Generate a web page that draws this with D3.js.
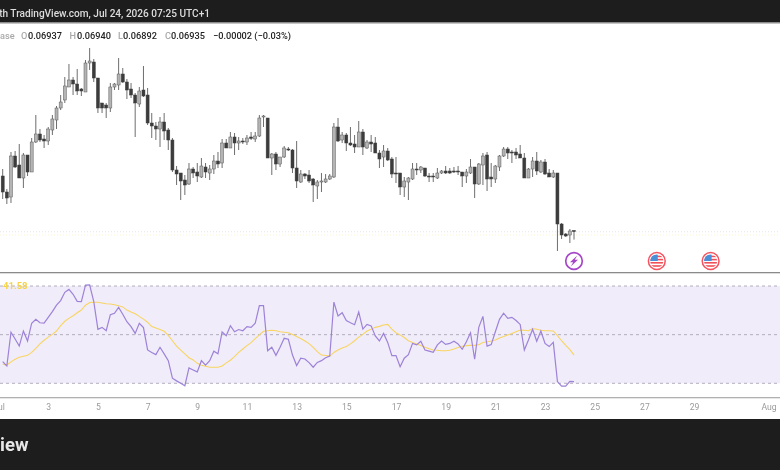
<!DOCTYPE html>
<html>
<head>
<meta charset="utf-8">
<script src="https://cdn.jsdelivr.net/npm/d3@7"></script>
<style>
html, body { margin: 0; padding: 0; background: #fff; overflow: hidden; }
svg { display: block; font-family: Roboto, "Open Sans", sans-serif; }
</style>
</head>
<body>
<div id="chart"></div>
<script>
// 4h candles, prices in units of 0.00001
const opens = [7210,7130,7105,7310,7265,7200,7315,7230,7380,7420,7395,7385,7440,7490,7550,7590,7655,7690,7670,7645,7630,7775,7780,7700,7575,7565,7550,7655,7665,7720,7680,7645,7615,7570,7640,7615,7475,7460,7445,7480,7440,7390,7240,7225,7190,7170,7245,7230,7205,7255,7225,7245,7285,7275,7375,7350,7405,7375,7385,7380,7405,7395,7410,7505,7500,7300,7320,7270,7305,7345,7340,7250,7180,7220,7215,7195,7160,7180,7180,7195,7205,7455,7390,7415,7375,7370,7355,7430,7350,7380,7375,7325,7305,7335,7295,7225,7225,7155,7180,7195,7245,7240,7250,7210,7210,7200,7225,7235,7235,7235,7235,7230,7210,7225,7255,7170,7265,7315,7205,7195,7255,7310,7345,7330,7330,7320,7300,7200,7245,7285,7230,7280,7225,7205,7225,6970,6920,6915,6937];
const highs = [7245,7145,7330,7335,7370,7325,7315,7400,7515,7445,7415,7455,7515,7560,7615,7705,7770,7705,7745,7650,7790,7850,7795,7700,7575,7575,7675,7675,7800,7750,7695,7675,7625,7655,7760,7650,7525,7480,7505,7525,7450,7400,7260,7225,7215,7275,7255,7275,7300,7275,7265,7315,7330,7395,7395,7430,7425,7405,7400,7415,7430,7430,7515,7515,7500,7325,7330,7305,7360,7355,7345,7385,7240,7225,7240,7200,7190,7225,7220,7220,7475,7500,7430,7425,7455,7415,7485,7445,7390,7415,7405,7340,7365,7350,7305,7305,7225,7205,7205,7275,7275,7260,7250,7225,7225,7250,7240,7260,7250,7255,7260,7230,7245,7295,7255,7275,7325,7330,7275,7265,7315,7355,7355,7340,7350,7365,7325,7250,7305,7330,7290,7295,7245,7240,7225,6975,6925,6945,6940];
const lows = [7095,7070,7075,7250,7200,7150,7210,7230,7375,7380,7350,7365,7415,7445,7540,7575,7655,7615,7615,7610,7630,7740,7680,7525,7525,7500,7530,7640,7640,7675,7595,7600,7405,7555,7605,7465,7400,7390,7355,7390,7340,7230,7165,7090,7115,7165,7200,7180,7200,7200,7190,7220,7250,7250,7350,7350,7315,7340,7370,7365,7390,7380,7405,7455,7300,7215,7240,7255,7300,7335,7225,7150,7175,7195,7175,7080,7095,7130,7175,7190,7200,7380,7375,7335,7360,7325,7355,7315,7345,7330,7325,7250,7255,7285,7200,7175,7115,7105,7090,7190,7215,7225,7205,7180,7180,7195,7220,7220,7220,7225,7215,7155,7175,7220,7100,7165,7165,7135,7155,7175,7235,7305,7295,7275,7295,7300,7200,7200,7205,7215,7225,7215,7205,7200,6835,6895,6905,6875,6892];
const closes = [7130,7100,7310,7255,7200,7315,7230,7380,7420,7390,7385,7445,7495,7550,7580,7660,7690,7670,7635,7635,7775,7785,7700,7550,7550,7550,7655,7670,7720,7680,7640,7615,7575,7635,7610,7475,7460,7445,7480,7435,7390,7240,7220,7185,7165,7245,7225,7210,7260,7230,7245,7285,7270,7375,7350,7405,7375,7385,7380,7400,7398,7410,7500,7510,7300,7320,7270,7305,7350,7340,7250,7185,7220,7210,7185,7165,7180,7185,7195,7210,7455,7385,7415,7375,7365,7355,7430,7355,7380,7370,7325,7295,7335,7290,7220,7220,7155,7185,7200,7245,7240,7255,7210,7205,7205,7225,7235,7225,7225,7230,7230,7210,7230,7255,7170,7270,7310,7195,7195,7260,7310,7345,7325,7325,7315,7300,7200,7245,7285,7235,7280,7220,7205,7225,6970,6915,6910,6935,6935];

const rsiValues = [38.9,37.1,51,48.2,45.3,51.5,47.4,54.7,56.3,54.9,54.7,57.1,59.5,62.1,64,67.4,68.6,66.6,63.7,63.6,70.4,70.5,63.6,52.2,53,51.6,58.2,58.8,61.2,58.4,55.3,53.3,50.5,54.7,52.9,43.7,42.7,41.8,44.8,42.1,39.3,32.1,31,30,29,36.3,35.5,34.7,39.3,37.5,39.3,43.2,42.1,51.1,49.6,53.7,51.2,52.1,51.6,53.3,53,54.7,61.9,61.9,43.4,44.8,41.5,44.8,48.5,48.1,41.6,37.3,40.3,40,38.5,36.6,38.6,39.3,40.5,41.2,63.4,57.7,59,55.8,54.9,54.1,59.3,52.3,54.2,53.6,49.5,47.4,50.5,46.8,41.4,41.4,36.8,40.3,41.8,46.4,45.8,47.3,43.7,43.2,42.7,45.8,47.4,46,46.4,47.3,46.2,44,47.1,50.8,39.9,53,57.5,45.3,45.9,51.2,56.3,58.8,56.7,57.1,55.8,54.2,43.7,47.8,52.2,47.3,51.5,46.4,45.1,46.8,30.7,28.8,28.8,30.8,30.7];
const rsiMa = [37.8,37.5,38.8,39.9,40.7,41.1,41.5,42.7,44.4,46.2,47.7,49,50.1,51.5,53.7,55.5,56.7,57.8,59,60.1,62.1,63.2,63.3,63.3,63,62.7,62.6,62.3,61.9,61.4,60.1,59.3,58.6,57.5,56.4,55.1,53.3,52.7,52.1,51.4,49.7,47.5,45.3,43.6,42.1,40.5,39.6,38.2,37.4,37,36.6,36.6,36.6,37.1,38.4,39.5,41,42.7,44.1,45.5,46.7,48.4,49.9,51.4,51.6,51.8,51.6,51.2,51,50.8,50.1,49.2,48.4,47.4,46.3,44.8,43,41.6,41.4,41.2,42.7,43.7,44.5,45.1,46.2,47.5,49,50.1,51.5,52.2,53,53.4,54,54.2,52.3,50.8,49.9,48.8,47.5,46.8,46.2,45.5,44.8,44.2,43.7,43.6,43.4,43.4,43.6,44.1,44.7,45.2,45.5,45.6,45.6,45.9,46.8,47.1,47.4,47.8,48.6,49.2,49.9,50.5,51.2,51.9,51.8,51.6,52.5,52.2,51.8,51.6,51.6,51.5,49.6,47.5,45.6,43.8,41.58];
const rsiLevels = [70, 50, 30];

// candle index of each date label
const tickIndex = [-1, 11, 23, 35, 47, 59, 71, 83, 95, 107, 119, 131, 143, 155, 167, 185];
const tickLabels = ["Jul", "3", "5", "7", "9", "11", "13", "15", "17", "19", "21", "23", "25", "27", "29", "Aug"];

const eventIndex = [138, 158, 171];
const eventKinds = ["bolt", "flag", "flag"];

const legendParts = [
    ["ase", 0, "#a9a9a9"], ["O", 21, "#a9a9a9"], ["0.06937", 28, "#222"],
    ["H", 69.5, "#a9a9a9"], ["0.06940", 77, "#222"], ["L", 118, "#a9a9a9"], ["0.06892", 123, "#222"],
    ["C", 165, "#a9a9a9"], ["0.06935", 171, "#222"], ["\u22120.00002 (\u22120.03%)", 213, "#222"]
];

const width = 780, height = 470;
const upFill = "#b4b4b4", upStroke = "#5a5a5a", downColor = "#3c3c3c", wickColor = "#5e5e5e";

const svg = d3.select("#chart").append("svg")
    .attr("width", width)
    .attr("height", height)
    .style("filter", "blur(0.5px)");

const x = d3.scaleLinear().domain([0, 138]).range([2.7, 574]);
const priceY = d3.scaleLinear().domain([6730, 7970]).range([272, 24]);
const rsiY = d3.scaleLinear().domain([30, 70]).range([383.3, 286]);

svg.append("rect").attr("width", width).attr("height", height).attr("fill", "#fff");

// header and footer bands
svg.append("rect").attr("width", width).attr("height", 22).attr("fill", "#1d1d1d");
svg.append("rect").attr("y", 22).attr("width", width).attr("height", 1.5).attr("fill", "#8c8c8c");
svg.append("rect").attr("y", 419).attr("width", width).attr("height", 51).attr("fill", "#1d1d1d");

svg.append("text")
    .attr("x", 210).attr("y", 16.5)
    .attr("text-anchor", "end")
    .attr("fill", "#dcdcdc")
    .style("font-size", "10.1px")
    .style("font-weight", 500)
    .text("th TradingView.com, Jul 24, 2026 07:25 UTC+1");

svg.append("text")
    .attr("x", 0).attr("y", 451)
    .attr("fill", "#e6e6e6")
    .style("font-size", "18.5px")
    .style("font-weight", 700)
    .text("iew");

svg.selectAll(".legend")
    .data(legendParts)
    .enter().append("text")
    .attr("class", "legend")
    .attr("x", d => d[1])
    .attr("y", 39)
    .attr("fill", d => d[2])
    .style("font-size", "9.2px")
    .style("font-weight", 500)
    .text(d => d[0]);

// last price lines
svg.append("line").attr("x1", 0).attr("x2", width).attr("y1", 231.7).attr("y2", 231.7)
    .attr("stroke", "#dcdcdc").attr("stroke-width", 0.7).attr("stroke-dasharray", "1 2");
svg.append("line").attr("x1", 0).attr("x2", width).attr("y1", 235).attr("y2", 235)
    .attr("stroke", "#f6eeb8").attr("stroke-width", 0.7).attr("stroke-dasharray", "1 2");

// candles
const candles = svg.append("g").selectAll("g")
    .data(opens.map((o, i) => ({i: i, o: o, h: highs[i], l: lows[i], c: closes[i]})))
    .enter().append("g");

candles.append("line")
    .attr("x1", d => x(d.i)).attr("x2", d => x(d.i))
    .attr("y1", d => priceY(d.h)).attr("y2", d => priceY(d.l))
    .attr("stroke", wickColor)
    .attr("stroke-width", 0.9);

candles.append("rect")
    .attr("x", d => x(d.i) - 1.5)
    .attr("width", 3)
    .attr("y", d => priceY(Math.max(d.o, d.c)))
    .attr("height", d => Math.max(1, Math.abs(priceY(d.o) - priceY(d.c))))
    .attr("fill", d => d.c >= d.o ? upFill : downColor)
    .attr("stroke", d => d.c >= d.o ? upStroke : downColor)
    .attr("stroke-width", 0.5);

// event markers
const events = svg.append("g").selectAll("g")
    .data(eventIndex.map((e, i) => ({e: e, kind: eventKinds[i]})))
    .enter().append("g")
    .attr("transform", d => `translate(${x(d.e)},261)`);

events.filter(d => d.kind === "bolt").each(function() {
    const g = d3.select(this);
    g.append("circle").attr("r", 8.3).attr("fill", "#fff").attr("stroke", "#a646c8").attr("stroke-width", 1.7);
    g.append("path").attr("d", "M3.2,-5.4 L-4,1.2 L-0.8,1.2 L-3.2,5.4 L4,-1.2 L0.8,-1.2 Z").attr("fill", "#a646c8");
});

events.filter(d => d.kind === "flag").each(function(d, n) {
    const g = d3.select(this);
    const id = "flagClip" + n;
    g.append("clipPath").attr("id", id).append("circle").attr("r", 6.6);
    g.append("circle").attr("r", 8.4).attr("fill", "#fff").attr("stroke", "#f4535f").attr("stroke-width", 1.5);
    const flag = g.append("g").attr("clip-path", `url(#${id})`);
    flag.append("rect").attr("x", -7).attr("y", -7).attr("width", 14).attr("height", 14).attr("fill", "#fff");
    flag.selectAll(".stripe").data(d3.range(4)).enter().append("rect")
        .attr("class", "stripe")
        .attr("x", -7).attr("width", 14)
        .attr("y", i => -5.4 + i * 3.2).attr("height", 1.6)
        .attr("fill", "#f0505a");
    flag.append("rect").attr("x", -7).attr("y", -7).attr("width", 8).attr("height", 7).attr("fill", "#4a90d9");
});

// RSI pane
svg.append("rect").attr("y", 272).attr("width", width).attr("height", 1.3).attr("fill", "#8a8a8a");
svg.append("rect").attr("y", 397).attr("width", width).attr("height", 1.3).attr("fill", "#b0b0b0");
svg.append("rect")
    .attr("y", rsiY(70)).attr("width", width)
    .attr("height", rsiY(30) - rsiY(70))
    .attr("fill", "#f0ecfa");

svg.selectAll(".level")
    .data(rsiLevels)
    .enter().append("line")
    .attr("class", "level")
    .attr("x1", 0).attr("x2", width)
    .attr("y1", d => rsiY(d)).attr("y2", d => rsiY(d))
    .attr("stroke", "#aca6b6")
    .attr("stroke-width", 0.9)
    .attr("stroke-dasharray", "3 3");

const rsiLine = d3.line().x((d, i) => x(i)).y(d => rsiY(d));

svg.append("path").datum(rsiMa)
    .attr("d", rsiLine)
    .attr("fill", "none")
    .attr("stroke", "#f8d560")
    .attr("stroke-width", 1.1);

svg.append("path").datum(rsiValues)
    .attr("d", rsiLine)
    .attr("fill", "none")
    .attr("stroke", "#9d82d8")
    .attr("stroke-width", 1.2);

svg.append("text")
    .attr("x", 3).attr("y", 288.5)
    .attr("fill", "#f7d445")
    .style("font-size", "9.5px")
    .style("font-weight", 700)
    .text(rsiMa[rsiMa.length - 1].toFixed(2));

// date axis
const axis = svg.append("g")
    .attr("transform", "translate(0,403)")
    .call(d3.axisBottom(x)
        .tickValues(tickIndex)
        .tickFormat((d, i) => tickLabels[i])
        .tickSize(0)
        .tickPadding(1));

axis.select(".domain").remove();
axis.selectAll("text")
    .attr("fill", "#9a9a9a")
    .style("font-family", "Roboto, sans-serif")
    .style("font-size", "8.6px");
</script>
</body>
</html>
